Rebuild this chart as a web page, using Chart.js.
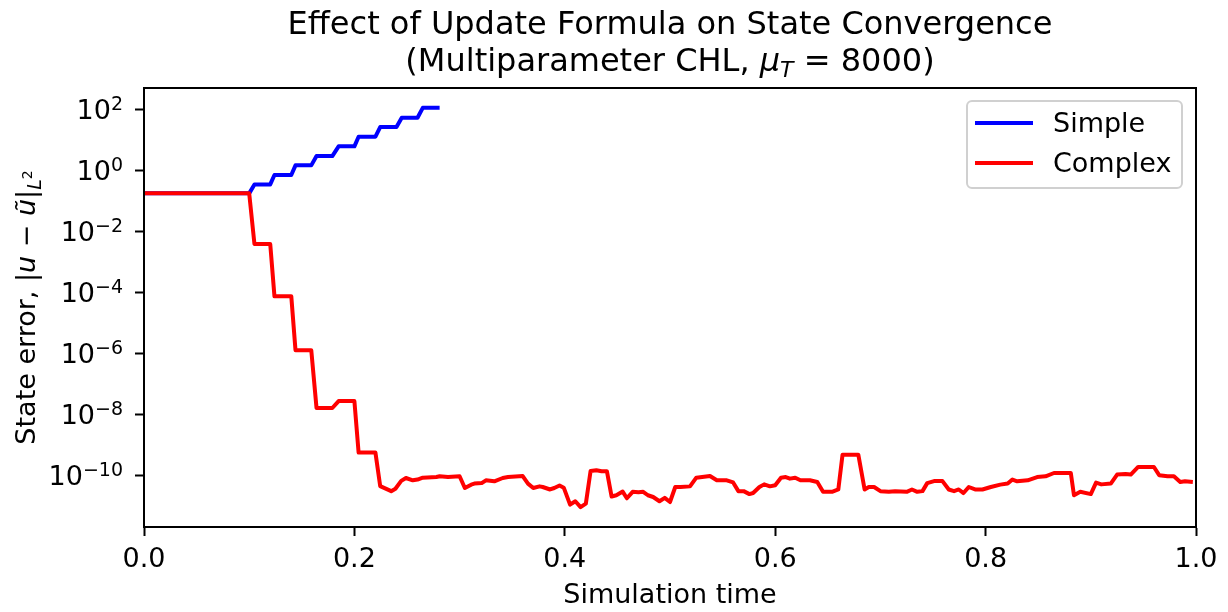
<!DOCTYPE html>
<html>
<head>
<meta charset="utf-8">
<script src="https://cdn.jsdelivr.net/npm/chart.js@4.4.1/dist/chart.umd.min.js"></script>
<style>
  html, body { margin: 0; padding: 0; background: #fff; }
  canvas { display: block; }
</style>
</head>
<body>
<canvas id="chart" width="1228" height="612"></canvas>
<script>
/* State convergence chart - Chart.js, log y axis */

const FONT = '"DejaVu Sans", sans-serif';

// Simple update formula (stops once it blows up)
const simpleTime = [0, 0.1, 0.105, 0.12, 0.124, 0.14, 0.144, 0.159, 0.164, 0.179, 0.185, 0.2, 0.204, 0.22, 0.2245, 0.24, 0.245, 0.26, 0.265, 0.281];
const simpleError = [0.175, 0.175, 0.344, 0.344, 0.70, 0.70, 1.45, 1.45, 2.92, 2.92, 6.1, 6.1, 12.6, 12.6, 26.2, 26.2, 52.8, 52.8, 112, 112];

// Complex update formula
const complexTime = [0, 0.1, 0.105, 0.12, 0.124, 0.14, 0.144, 0.159, 0.164, 0.179, 0.185, 0.2, 0.204, 0.22, 0.2245, 0.235, 0.239, 0.2445, 0.249, 0.2555,
  0.26, 0.265, 0.278, 0.281, 0.289, 0.3, 0.305, 0.311, 0.314, 0.321, 0.325, 0.333, 0.341, 0.346, 0.36, 0.365, 0.37, 0.376, 0.379, 0.386,
  0.39, 0.395, 0.399, 0.405, 0.41, 0.415, 0.42, 0.4245, 0.43, 0.435, 0.44, 0.4445, 0.449, 0.455, 0.459, 0.4645, 0.47, 0.4745, 0.479, 0.484,
  0.49, 0.495, 0.5, 0.505, 0.51, 0.519, 0.525, 0.538, 0.5445, 0.554, 0.56, 0.565, 0.57, 0.5755, 0.579, 0.585, 0.5895, 0.595, 0.6, 0.6055,
  0.61, 0.614, 0.619, 0.624, 0.633, 0.64, 0.6455, 0.654, 0.66, 0.664, 0.679, 0.685, 0.689, 0.694, 0.7, 0.708, 0.714, 0.725, 0.73, 0.735,
  0.74, 0.7445, 0.751, 0.759, 0.765, 0.77, 0.7745, 0.779, 0.784, 0.79, 0.797, 0.805, 0.814, 0.821, 0.8255, 0.83, 0.84, 0.849, 0.857, 0.865,
  0.881, 0.884, 0.89, 0.9, 0.905, 0.91, 0.919, 0.925, 0.933, 0.938, 0.945, 0.96, 0.965, 0.973, 0.979, 0.985, 0.9895, 0.997];
const complexError = [0.175, 0.175, 3.8e-3, 3.8e-3, 7.4e-5, 7.4e-5, 1.26e-6, 1.26e-6, 1.6e-8, 1.6e-8, 2.7e-8, 2.7e-8, 5.5e-10, 5.5e-10, 4.4e-11, 3.0e-11, 3.6e-11, 6.5e-11, 8.1e-11, 6.8e-11,
  7.2e-11, 8.3e-11, 8.7e-11, 9.2e-11, 8.7e-11, 9.2e-11, 3.8e-11, 4.9e-11, 5.3e-11, 5.5e-11, 6.8e-11, 6.3e-11, 8.1e-11, 8.7e-11, 9.4e-11, 5.3e-11, 3.8e-11, 4.3e-11, 4.1e-11, 3.4e-11,
  3.8e-11, 4.6e-11, 3.9e-11, 1.08e-11, 1.4e-11, 9.0e-12, 1.17e-11, 1.37e-10, 1.45e-10, 1.35e-10, 1.35e-10, 2.0e-11, 2.2e-11, 2.9e-11, 1.75e-11, 2.85e-11, 2.75e-11, 2.85e-11, 2.2e-11, 1.93e-11,
  1.4e-11, 1.8e-11, 1.32e-11, 4.1e-11, 4.1e-11, 4.3e-11, 8.3e-11, 9.4e-11, 6.8e-11, 6.8e-11, 5.8e-11, 3.0e-11, 3.0e-11, 2.4e-11, 2.6e-11, 4.1e-11, 5.0e-11, 4.3e-11, 4.7e-11, 8.3e-11,
  8.7e-11, 7.7e-11, 8.3e-11, 6.8e-11, 6.8e-11, 6.0e-11, 2.85e-11, 2.85e-11, 3.4e-11, 4.7e-10, 4.7e-10, 3.4e-11, 4.1e-11, 4.1e-11, 3.0e-11, 2.85e-11, 3.0e-11, 2.85e-11, 3.4e-11, 2.85e-11,
  3.0e-11, 5.5e-11, 6.4e-11, 6.4e-11, 3.4e-11, 3.0e-11, 3.4e-11, 2.6e-11, 4.1e-11, 3.4e-11, 3.4e-11, 4.1e-11, 4.9e-11, 5.3e-11, 7.2e-11, 6.3e-11, 6.8e-11, 8.7e-11, 9.2e-11, 1.18e-10,
  1.18e-10, 2.2e-11, 2.85e-11, 2.4e-11, 5.7e-11, 5.0e-11, 5.3e-11, 1.05e-10, 1.1e-10, 1.05e-10, 1.86e-10, 1.86e-10, 1.0e-10, 9.2e-11, 9.2e-11, 6.0e-11, 6.3e-11, 6.0e-11];

const seriesLabels = ['Simple', 'Complex'];
const seriesColors = ['#0000ff', '#ff0000'];

const xTickValues = [0, 0.2, 0.4, 0.6, 0.8, 1.0];
const xTickLabels = ['0.0', '0.2', '0.4', '0.6', '0.8', '1.0'];
const yTickValues = [1e2, 1e0, 1e-2, 1e-4, 1e-6, 1e-8, 1e-10];
const yTickExponents = ['2', '0', '\u22122', '\u22124', '\u22126', '\u22128', '\u221210'];

const TICK_LEN = 9;

function fontOf(run) {
  return (run.italic ? 'italic ' : '') + run.size + 'px ' + FONT;
}

// draws a row of mixed-style text pieces (used for the math bits)
function drawRuns(ctx, runs, x, y, align) {
  let total = 0;
  runs.forEach(r => { ctx.font = fontOf(r); total += ctx.measureText(r.t).width; });
  let cx = x;
  if (align === 'center') cx = x - total / 2;
  else if (align === 'right') cx = x - total;
  ctx.textAlign = 'left';
  ctx.textBaseline = 'alphabetic';
  runs.forEach(r => {
    ctx.font = fontOf(r);
    ctx.fillText(r.t, cx, y + (r.dy || 0));
    cx += ctx.measureText(r.t).width;
  });
}

const decorPlugin = {
  id: 'decor',
  afterDatasetsDraw(chart) {
    const ctx = chart.ctx;
    const area = chart.chartArea;
    const xs = chart.scales.x;
    const ys = chart.scales.y;
    const midX = (area.left + area.right) / 2;
    const midY = (area.top + area.bottom) / 2;

    ctx.save();
    ctx.fillStyle = '#000';

    // frame
    ctx.strokeStyle = '#000';
    ctx.lineWidth = 2;
    ctx.strokeRect(area.left, area.top, area.right - area.left, area.bottom - area.top);

    // x tick labels
    ctx.font = '27px ' + FONT;
    ctx.textAlign = 'center';
    ctx.textBaseline = 'alphabetic';
    xTickValues.forEach((v, i) => {
      ctx.fillText(xTickLabels[i], xs.getPixelForValue(v), area.bottom + 40);
    });

    // y tick labels 10^n
    yTickValues.forEach((v, i) => {
      const py = ys.getPixelForValue(v);
      drawRuns(ctx, [
        { t: '10', size: 27 },
        { t: yTickExponents[i], size: 19, dy: -9 }
      ], area.left - TICK_LEN - 12, py + 10, 'right');
    });

    // axis titles
    ctx.font = '27px ' + FONT;
    ctx.textAlign = 'center';
    ctx.fillText('Simulation time', midX, area.bottom + 76);

    ctx.save();
    ctx.translate(35, midY);
    ctx.rotate(-Math.PI / 2);
    drawRuns(ctx, [
      { t: 'State error, ', size: 27 },
      { t: '|', size: 27 },
      { t: 'u', size: 27, italic: true },
      { t: ' \u2212 ', size: 27 },
      { t: '\u0169', size: 27, italic: true },
      { t: '|', size: 27 },
      { t: 'L', size: 19, italic: true, dy: 6 },
      { t: '2', size: 14, dy: -3 }
    ], 0, 0, 'center');
    ctx.restore();

    // title
    ctx.font = '32px ' + FONT;
    ctx.textAlign = 'center';
    ctx.fillText('Effect of Update Formula on State Convergence', midX, 34);
    drawRuns(ctx, [
      { t: '(Multiparameter CHL, ', size: 32 },
      { t: '\u03bc', size: 32, italic: true },
      { t: 'T', size: 22, italic: true, dy: 6 },
      { t: ' = 8000)', size: 32 }
    ], midX, 71, 'center');

    // legend box, upper right
    const lx = 967, ly = 101, lw = 215, lh = 87;
    ctx.beginPath();
    ctx.roundRect(lx, ly, lw, lh, 5);
    ctx.fillStyle = 'rgba(255,255,255,0.8)';
    ctx.fill();
    ctx.strokeStyle = '#d0d0d0';
    ctx.lineWidth = 2;
    ctx.stroke();

    chart.data.datasets.forEach((ds, i) => {
      const rowY = 123 + i * 40;
      ctx.beginPath();
      ctx.moveTo(975, rowY);
      ctx.lineTo(1033, rowY);
      ctx.strokeStyle = ds.borderColor;
      ctx.lineWidth = 4;
      ctx.stroke();
      ctx.fillStyle = '#000';
      ctx.font = '27px ' + FONT;
      ctx.textAlign = 'left';
      ctx.textBaseline = 'alphabetic';
      ctx.fillText(ds.label, 1053, rowY + 9);
    });

    ctx.restore();
  }
};

const simplePoints = simpleTime.map((t, i) => ({ x: t, y: simpleError[i] }));
const complexPoints = complexTime.map((t, i) => ({ x: t, y: complexError[i] }));

const axisGrid = {
  drawOnChartArea: false,
  drawTicks: true,
  tickLength: TICK_LEN,
  tickWidth: 2,
  tickColor: '#000'
};

new Chart(document.getElementById('chart').getContext('2d'), {
  type: 'line',
  data: {
    datasets: [
      {
        label: seriesLabels[0],
        data: simplePoints,
        borderColor: seriesColors[0],
        borderWidth: 4,
        order: 1
      },
      {
        label: seriesLabels[1],
        data: complexPoints,
        borderColor: seriesColors[1],
        borderWidth: 4,
        order: 0
      }
    ]
  },
  options: {
    responsive: false,
    devicePixelRatio: 1,
    animation: false,
    layout: { padding: { left: 135, right: 32, top: 88, bottom: 76 } },
    elements: {
      point: { radius: 0, hoverRadius: 0 },
      line: { tension: 0, borderJoinStyle: 'round', borderCapStyle: 'butt', fill: false }
    },
    plugins: {
      legend: { display: false },
      title: { display: false },
      tooltip: { enabled: false }
    },
    scales: {
      x: {
        type: 'linear',
        min: 0,
        max: 1,
        ticks: { display: false },
        afterBuildTicks: (scale) => { scale.ticks = xTickValues.map(v => ({ value: v })); },
        grid: axisGrid,
        border: { display: true, color: '#000', width: 2 }
      },
      y: {
        type: 'logarithmic',
        min: 2e-12,
        max: 500,
        ticks: { display: false },
        afterBuildTicks: (scale) => { scale.ticks = yTickValues.map(v => ({ value: v })); },
        grid: axisGrid,
        border: { display: true, color: '#000', width: 2 }
      }
    }
  },
  plugins: [decorPlugin]
});
</script>
</body>
</html>
